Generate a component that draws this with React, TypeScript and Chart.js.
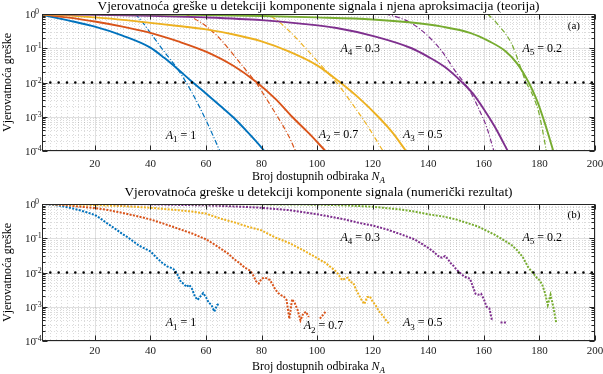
import React, { useEffect, useRef } from "react";
import { Chart, registerables } from "chart.js";
Chart.register(...registerables);

const FONT = '"Liberation Serif", "Times New Roman", serif';
const COLORS = ["#0072BD", "#D95319", "#EDB120", "#7E2F8E", "#77AC30"];

// ---- axes / labels ----
const xTickValues = [20, 40, 60, 80, 100, 120, 140, 160, 180, 200];
const yTickExponents = [0, -1, -2, -3, -4];
const amplitudeLabels = ["1", "0.7", "0.5", "0.3", "0.2"];
const thresholdLevel = 0.01;
const topTitle = "Vjerovatnoća greške u detekciji komponente signala i njena aproksimacija (teorija)";
const bottomTitle = "Vjerovatnoća greške u detekciji komponente signala (numerički rezultat)";
const yAxisTitle = "Vjerovatnoća greške";
const xAxisTitle = "Broj dostupnih odbiraka ";

// ---- theory (solid), values are log10 of probability ----
const a1TheoryN = [1, 10, 20, 30, 40, 45, 50, 55, 60, 65, 70, 75, 80, 81];
const a1TheoryLog = [-0.02, -0.18, -0.37, -0.63, -0.98, -1.28, -1.62, -1.98, -2.32, -2.67, -3.03, -3.45, -3.9, -4.0];
const a2TheoryN = [1, 10, 20, 30, 40, 50, 60, 70, 78, 85, 91, 97, 103];
const a2TheoryLog = [-0.01, -0.1, -0.22, -0.37, -0.55, -0.8, -1.1, -1.52, -1.98, -2.48, -3.0, -3.48, -4.0];
const a3TheoryN = [1, 10, 20, 30, 40, 50, 60, 70, 80, 90, 100, 108, 115, 122, 127, 132];
const a3TheoryLog = [-0.01, -0.04, -0.1, -0.17, -0.26, -0.35, -0.45, -0.6, -0.8, -1.1, -1.5, -1.98, -2.45, -3.0, -3.45, -4.0];
const a4TheoryN = [1, 20, 40, 60, 80, 94, 107, 121, 134, 140, 146, 152, 156, 160, 164, 168.6];
const a4TheoryLog = [0, -0.02, -0.05, -0.1, -0.18, -0.28, -0.41, -0.66, -1.0, -1.25, -1.55, -1.98, -2.32, -2.78, -3.3, -4.0];
const a5TheoryN = [1, 40, 60, 80, 100, 120, 134, 145, 155, 162, 168, 172, 176, 179, 182, 185];
const a5TheoryLog = [0, -0.01, -0.03, -0.06, -0.1, -0.16, -0.25, -0.37, -0.55, -0.8, -1.1, -1.45, -1.98, -2.5, -3.2, -4.0];

// ---- approximation (dash-dot), log10 ----
const a1ApproxN = [34.5, 37, 40, 45, 50, 55, 60, 65];
const a1ApproxLog = [0, -0.22, -0.55, -1.1, -1.63, -2.3, -3.1, -4.0];
const a2ApproxN = [52.5, 55, 60, 65, 70, 75, 78, 80, 85, 90, 92.2];
const a2ApproxLog = [0, -0.1, -0.35, -0.72, -1.2, -1.7, -2.0, -2.25, -2.9, -3.6, -4.0];
const a3ApproxN = [80, 84.4, 90, 97, 102, 107, 112, 118, 123.7];
const a3ApproxLog = [0, -0.12, -0.5, -1.1, -1.55, -2.0, -2.55, -3.25, -4.0];
const a4ApproxN = [124.5, 130, 134, 140, 145, 150, 152.4, 156, 158.4, 161, 163.6];
const a4ApproxLog = [0, -0.12, -0.27, -0.65, -1.1, -1.7, -1.95, -2.4, -2.81, -3.3, -4.0];
const a5ApproxN = [161.4, 165, 170, 175, 178, 180, 182.5];
const a5ApproxLog = [0, -0.3, -0.87, -1.95, -2.45, -2.95, -4.0];

// ---- numerical results (dotted), log10 ----
const a1NumN = [1, 5, 8, 11, 14, 17, 20, 22, 24, 26, 28, 30, 32, 34, 36, 38, 40, 42, 44, 46, 47, 48, 49, 50, 51, 52, 53, 54, 55, 56, 57, 58, 59, 60, 61, 62, 63, 64, 65];
const a1NumLog = [0, -0.02, -0.06, -0.11, -0.17, -0.24, -0.32, -0.42, -0.54, -0.65, -0.76, -0.88, -0.98, -1.1, -1.22, -1.3, -1.38, -1.55, -1.7, -1.82, -1.85, -1.88, -1.95, -2.1, -2.28, -2.33, -2.42, -2.36, -2.48, -2.7, -2.8, -2.7, -2.6, -2.72, -2.88, -2.95, -3.14, -2.95, -2.9];
const a2NumN = [1, 5, 10, 15, 20, 25, 30, 35, 40, 45, 50, 55, 60, 63, 66, 68, 70, 72, 74, 76, 77, 78, 79, 80, 81, 82, 83, 84, 85, 86, 87, 88, 89, 90, 91, 92, 93, 94, 95, 96, 97, 98, 99, 100, 101, 102, 103];
const a2NumLog: (number | null)[] = [0, -0.01, -0.04, -0.08, -0.12, -0.18, -0.26, -0.35, -0.45, -0.58, -0.72, -0.86, -1.03, -1.18, -1.34, -1.45, -1.6, -1.72, -1.86, -1.95, -2.08, -2.25, -2.32, -2.18, -2.15, -2.17, -2.22, -2.35, -2.5, -2.6, -2.66, -2.7, -2.8, -3.35, -2.78, -2.9, -3.1, -3.4, -3.2, -3.15, -3.3, null, null, null, -3.35, -3.25, -3.15];
const a3NumN = [1, 10, 20, 30, 40, 50, 55, 60, 65, 70, 75, 80, 85, 90, 95, 100, 103, 105, 107, 109, 110, 111, 112, 113, 114, 115, 116, 117, 118, 119, 120, 121, 122, 123, 124, 125, 126];
const a3NumLog = [0, -0.01, -0.03, -0.06, -0.11, -0.18, -0.22, -0.28, -0.42, -0.53, -0.66, -0.77, -0.98, -1.14, -1.35, -1.58, -1.72, -1.85, -1.98, -2.22, -2.18, -2.15, -2.28, -2.3, -2.5, -2.65, -2.8, -2.92, -2.72, -2.7, -2.85, -2.95, -3.1, -3.2, -3.3, -3.42, -3.5];
const a4NumN = [1, 20, 40, 60, 70, 80, 90, 100, 110, 115, 120, 125, 130, 135, 138, 140, 142, 144, 145, 146, 147, 148, 149, 150, 151, 152, 153, 154, 155, 156, 157, 158, 159, 160, 161, 162, 163, 164, 165, 166, 167, 168];
const a4NumLog: (number | null)[] = [0, 0, -0.01, -0.04, -0.07, -0.11, -0.18, -0.3, -0.45, -0.55, -0.63, -0.74, -0.88, -1.03, -1.18, -1.28, -1.4, -1.55, -1.57, -1.52, -1.6, -1.72, -1.8, -1.9, -1.98, -2.05, -2.12, -2.15, -2.18, -2.4, -2.62, -2.65, -2.62, -2.78, -3.0, -3.05, -3.42, null, null, -3.46, -3.46, -3.46];
const a5NumN = [1, 40, 80, 100, 110, 120, 130, 135, 140, 145, 150, 155, 158, 161, 164, 167, 170, 172, 174, 176, 177, 178, 179, 180, 181, 182, 183, 184, 185, 186];
const a5NumLog = [0, 0, -0.01, -0.02, -0.04, -0.08, -0.16, -0.22, -0.3, -0.36, -0.45, -0.58, -0.66, -0.78, -0.9, -1.05, -1.2, -1.35, -1.55, -1.85, -1.95, -2.05, -2.15, -2.22, -2.35, -2.6, -2.95, -2.65, -3.0, -3.45];

const W = 603;
const H = 187;

type Pt = { x: number; y: number | null };
function toPoints(ns: number[], logs: (number | null)[]): Pt[] {
  return ns.map((n, i) => ({ x: n, y: logs[i] === null ? null : Math.pow(10, logs[i] as number) }));
}

const theory = [
  [a1TheoryN, a1TheoryLog], [a2TheoryN, a2TheoryLog], [a3TheoryN, a3TheoryLog], [a4TheoryN, a4TheoryLog], [a5TheoryN, a5TheoryLog],
] as const;
const approx = [
  [a1ApproxN, a1ApproxLog], [a2ApproxN, a2ApproxLog], [a3ApproxN, a3ApproxLog], [a4ApproxN, a4ApproxLog], [a5ApproxN, a5ApproxLog],
] as const;
const numeric = [
  [a1NumN, a1NumLog], [a2NumN, a2NumLog], [a3NumN, a3NumLog], [a4NumN, a4NumLog], [a5NumN, a5NumLog],
] as const;

function thresholdDataset() {
  return {
    data: [{ x: 1, y: thresholdLevel }, { x: 200, y: thresholdLevel }],
    borderColor: "#000",
    borderWidth: 2.6,
    borderDash: [0, 8.33],
    borderCapStyle: "round",
    pointRadius: 0,
  };
}

function topDatasets() {
  const ds: any[] = [thresholdDataset()];
  for (let i = 4; i >= 0; i--) {
    ds.push({
      data: toPoints(approx[i][0] as any, approx[i][1] as any),
      borderColor: COLORS[i], borderWidth: 1.2, borderDash: [5, 2, 1, 2],
      cubicInterpolationMode: "monotone", pointRadius: 0,
    });
    ds.push({
      data: toPoints(theory[i][0] as any, theory[i][1] as any),
      borderColor: COLORS[i], borderWidth: 1.9,
      cubicInterpolationMode: "monotone", pointRadius: 0,
    });
  }
  return ds;
}

function bottomDatasets() {
  const ds: any[] = [thresholdDataset()];
  for (let i = 4; i >= 0; i--) {
    ds.push({
      data: toPoints(numeric[i][0] as any, numeric[i][1] as any),
      borderColor: COLORS[i], borderWidth: 2, borderDash: [2, 1.4],
      tension: 0, pointRadius: 0, spanGaps: false,
    });
  }
  return ds;
}

type Seg = { t: string; italic?: boolean; sub?: boolean; sup?: boolean };
function drawSegs(ctx: CanvasRenderingContext2D, segs: Seg[], x: number, y: number, size: number, align: "center" | "left" | "right") {
  const fontFor = (s: Seg) => `${s.italic ? "italic " : ""}${s.sub || s.sup ? Math.round(size * 0.72) : size}px ${FONT}`;
  let w = 0;
  const widths = segs.map((s) => {
    ctx.font = fontFor(s);
    const m = ctx.measureText(s.t).width;
    w += m;
    return m;
  });
  let cx = align === "center" ? x - w / 2 : align === "right" ? x - w : x;
  ctx.textAlign = "left";
  ctx.textBaseline = "alphabetic";
  segs.forEach((s, i) => {
    ctx.font = fontFor(s);
    const dy = s.sub ? size * 0.28 : s.sup ? -size * 0.4 : 0;
    ctx.fillText(s.t, cx, y + dy);
    cx += widths[i];
  });
}

interface PanelCfg {
  title: string;
  tag: string;
  plotTop: number;
  plotBottom: number;
  titleBaseline: number;
  tickBaseline: number;
  axisTitleBaseline: number;
  labelPos: { x: number; logY: number }[];
  tagPos: { x: number; logY: number };
}

function decor(cfg: PanelCfg) {
  return {
    id: "decor",
    beforeDatasetsDraw(chart: any) {
      const { ctx, chartArea: a, scales } = chart;
      const x = scales.x, y = scales.y;
      ctx.save();
      ctx.lineWidth = 1;
      ctx.strokeStyle = "rgba(0,0,0,0.14)";
      ctx.setLineDash([1, 2]);
      for (let n = 2; n < 200; n += 2) {
        if (n % 20 === 0) continue;
        const px = Math.round(x.getPixelForValue(n)) + 0.5;
        ctx.beginPath(); ctx.moveTo(px, a.top); ctx.lineTo(px, a.bottom); ctx.stroke();
      }
      for (let e = -4; e < 0; e++) {
        for (let m = 2; m <= 9; m++) {
          const py = Math.round(y.getPixelForValue(m * Math.pow(10, e))) + 0.5;
          ctx.beginPath(); ctx.moveTo(a.left, py); ctx.lineTo(a.right, py); ctx.stroke();
        }
      }
      ctx.setLineDash([]);
      ctx.strokeStyle = "rgba(0,0,0,0.12)";
      xTickValues.forEach((v) => {
        const px = Math.round(x.getPixelForValue(v)) + 0.5;
        ctx.beginPath(); ctx.moveTo(px, a.top); ctx.lineTo(px, a.bottom); ctx.stroke();
      });
      yTickExponents.forEach((e) => {
        const py = Math.round(y.getPixelForValue(Math.pow(10, e))) + 0.5;
        ctx.beginPath(); ctx.moveTo(a.left, py); ctx.lineTo(a.right, py); ctx.stroke();
      });
      ctx.restore();
    },
    afterDatasetsDraw(chart: any) {
      const { ctx, chartArea: a, scales } = chart;
      const x = scales.x, y = scales.y;
      ctx.save();
      const L = Math.round(a.left) + 0.5, R = Math.round(a.right) - 0.5;
      const T = Math.round(a.top) + 0.5, B = Math.round(a.bottom) - 0.5;
      ctx.strokeStyle = "#262626";
      ctx.lineWidth = 1;
      ctx.strokeRect(L, T, R - L, B - T);
      // x ticks
      xTickValues.forEach((v) => {
        const px = Math.round(x.getPixelForValue(v)) + 0.5;
        ctx.beginPath();
        ctx.moveTo(px, B); ctx.lineTo(px, B - 5);
        ctx.moveTo(px, T); ctx.lineTo(px, T + 5);
        ctx.stroke();
      });
      // y ticks
      for (let e = -4; e <= 0; e++) {
        const py = Math.round(y.getPixelForValue(Math.pow(10, e))) + 0.5;
        ctx.beginPath();
        ctx.moveTo(L, py); ctx.lineTo(L + 5, py);
        ctx.moveTo(R, py); ctx.lineTo(R - 5, py);
        ctx.stroke();
        if (e < 0) {
          for (let m = 2; m <= 9; m++) {
            const pm = Math.round(y.getPixelForValue(m * Math.pow(10, e))) + 0.5;
            ctx.beginPath();
            ctx.moveTo(L, pm); ctx.lineTo(L + 3, pm);
            ctx.moveTo(R, pm); ctx.lineTo(R - 3, pm);
            ctx.stroke();
          }
        }
      }
      ctx.fillStyle = "#1a1a1a";
      // x tick labels
      ctx.font = `11px ${FONT}`;
      ctx.textAlign = "center";
      ctx.textBaseline = "alphabetic";
      xTickValues.forEach((v) => {
        ctx.fillText(String(v), x.getPixelForValue(v), cfg.tickBaseline);
      });
      // y tick labels
      yTickExponents.forEach((e) => {
        const py = y.getPixelForValue(Math.pow(10, e));
        ctx.textAlign = "left";
        ctx.font = `11px ${FONT}`;
        ctx.fillText("10", 25, py + 4);
        ctx.font = `8px ${FONT}`;
        ctx.fillText(String(e), 35, py);
      });
      // titles
      ctx.fillStyle = "#000";
      const cx = (a.left + a.right) / 2;
      ctx.font = `13.3px ${FONT}`;
      ctx.textAlign = "center";
      ctx.fillText(cfg.title, cx, cfg.titleBaseline);
      drawSegs(ctx, [{ t: xAxisTitle }, { t: "N", italic: true }, { t: "A", italic: true, sub: true }], cx, cfg.axisTitleBaseline, 12, "center");
      ctx.save();
      ctx.translate(8, (a.top + a.bottom) / 2);
      ctx.rotate(-Math.PI / 2);
      ctx.font = `12px ${FONT}`;
      ctx.textAlign = "center";
      ctx.textBaseline = "middle";
      ctx.fillText(yAxisTitle, 0, 0);
      ctx.restore();
      // annotations
      cfg.labelPos.forEach((p, i) => {
        const px = x.getPixelForValue(p.x);
        const py = y.getPixelForValue(Math.pow(10, p.logY));
        drawSegs(ctx, [{ t: "A", italic: true }, { t: String(i + 1), sub: true }, { t: " = " + amplitudeLabels[i] }], px, py + 4, 12, "center");
      });
      ctx.font = `11px ${FONT}`;
      ctx.textAlign = "center";
      ctx.textBaseline = "alphabetic";
      ctx.fillText(cfg.tag, x.getPixelForValue(cfg.tagPos.x), y.getPixelForValue(Math.pow(10, cfg.tagPos.logY)) + 4);
      ctx.restore();
    },
  };
}

const topCfg: PanelCfg = {
  title: topTitle,
  tag: "(a)",
  plotTop: 14,
  plotBottom: 151,
  titleBaseline: 10,
  tickBaseline: 167,
  axisTitleBaseline: 180,
  labelPos: [
    { x: 51, logY: -3.52 }, { x: 107.7, logY: -3.49 }, { x: 138, logY: -3.49 },
    { x: 115.5, logY: -0.99 }, { x: 181, logY: -0.99 },
  ],
  tagPos: { x: 192.4, logY: -0.31 },
};

const bottomCfg: PanelCfg = {
  title: bottomTitle,
  tag: "(b)",
  plotTop: 17,
  plotBottom: 154,
  titleBaseline: 9,
  tickBaseline: 167,
  axisTitleBaseline: 183,
  labelPos: [
    { x: 51, logY: -3.45 }, { x: 102.3, logY: -3.54 }, { x: 138, logY: -3.45 },
    { x: 115.5, logY: -0.96 }, { x: 181, logY: -0.96 },
  ],
  tagPos: { x: 192.4, logY: -0.28 },
};

function Panel({ cfg, datasets }: { cfg: PanelCfg; datasets: any[] }) {
  const ref = useRef<HTMLCanvasElement>(null);
  useEffect(() => {
    const chart = new Chart(ref.current as HTMLCanvasElement, {
      type: "line",
      data: { datasets },
      options: {
        animation: false,
        responsive: false,
        devicePixelRatio: 1,
        events: [],
        layout: { padding: { top: cfg.plotTop, right: 8, left: 0, bottom: 0 } },
        plugins: { legend: { display: false }, tooltip: { enabled: false }, title: { display: false } },
        elements: { point: { radius: 0 } },
        scales: {
          x: {
            type: "linear", min: 1, max: 200,
            ticks: { display: false }, grid: { display: false }, border: { display: false },
            afterFit: (s: any) => { s.height = H - cfg.plotBottom; },
          },
          y: {
            type: "logarithmic", min: 1e-4, max: 1,
            ticks: { display: false }, grid: { display: false }, border: { display: false },
            afterFit: (s: any) => { s.width = 42; },
          },
        },
      } as any,
      plugins: [decor(cfg) as any],
    });
    return () => chart.destroy();
  }, []);
  return <canvas ref={ref} width={W} height={H} style={{ display: "block", width: W, height: H }} />;
}

export default function App() {
  return (
    <div style={{ position: "absolute", left: 0, top: 0, width: W, height: 2 * H, background: "#fff" }}>
      <Panel cfg={topCfg} datasets={topDatasets()} />
      <Panel cfg={bottomCfg} datasets={bottomDatasets()} />
    </div>
  );
}
